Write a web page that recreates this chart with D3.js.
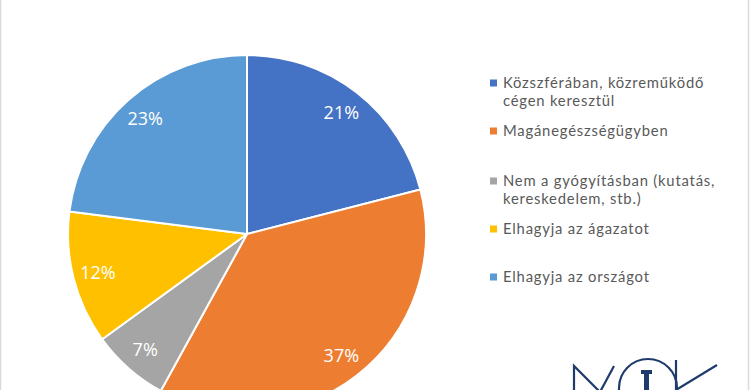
<!DOCTYPE html>
<html>
<head>
<meta charset="utf-8">
<script src="https://cdn.jsdelivr.net/npm/d3@7"></script>
<style>
  body { margin: 0; background: #fff; }
  svg { display: block; font-family: "Open Sans", Lato, sans-serif; }
</style>
</head>
<body>
<div id="chart"></div>
<script>
// data
var categories = ["Közszférában, közreműködő cégen keresztül", "Magánegészségügyben",
    "Nem a gyógyításban (kutatás, kereskedelem, stb.)", "Elhagyja az ágazatot", "Elhagyja az országot"];
var legendLines = [["Közszférában, közreműködő", "cégen keresztül"], ["Magánegészségügyben"],
    ["Nem a gyógyításban (kutatás,", "kereskedelem, stb.)"], ["Elhagyja az ágazatot"], ["Elhagyja az országot"]];
var values = [21, 37, 7, 12, 23];
var colors = ["#4472c4", "#ed7d31", "#a5a5a5", "#ffc000", "#5b9bd5"];

var width = 750, height = 390;
var cx = 247, cy = 234, radius = 179;

var svg = d3.select("#chart").append("svg")
    .attr("width", width)
    .attr("height", height);

// frame
svg.append("rect")
    .attr("x", 0.5).attr("y", -2)
    .attr("width", width - 2).attr("height", height + 4)
    .attr("fill", "none")
    .attr("stroke", "#d9d9d9")
    .attr("stroke-width", 1.5);

var pie = d3.pie().sort(null).value(function (d) { return d; });
var arc = d3.arc().innerRadius(0).outerRadius(radius);
var labelArc = d3.arc().innerRadius(radius * 0.86).outerRadius(radius * 0.86);

var g = svg.append("g").attr("transform", "translate(" + cx + "," + cy + ")");
var arcs = pie(values);

g.selectAll("path.slice")
    .data(arcs)
    .enter().append("path")
    .attr("class", "slice")
    .attr("d", arc)
    .attr("fill", function (d, i) { return colors[i]; })
    .attr("stroke", "#fff")
    .attr("stroke-width", 2)
    .attr("stroke-linejoin", "round");

g.selectAll("text.lbl")
    .data(arcs)
    .enter().append("text")
    .attr("class", "lbl")
    .attr("transform", function (d) { return "translate(" + labelArc.centroid(d) + ")"; })
    .attr("text-anchor", "middle")
    .attr("dy", "0.36em")
    .attr("fill", "#fff")
    .attr("font-size", 18)
    .text(function (d) { return d.value + "%"; });

// legend
var legendY = [83, 131, 181, 229, 277];
var legend = svg.append("g");
legendLines.forEach(function (lines, i) {
    var item = legend.append("g").attr("transform", "translate(490," + legendY[i] + ")");
    item.append("rect")
        .attr("x", 0).attr("y", -3.5)
        .attr("width", 7).attr("height", 7)
        .attr("fill", colors[i]);
    lines.forEach(function (t, j) {
        item.append("text")
            .attr("x", 13)
            .attr("y", j * 18)
            .attr("dy", "0.35em")
            .attr("fill", "#595959")
            .attr("font-family", "Lato, sans-serif")
            .attr("font-size", 14.8)
            .attr("letter-spacing", 0.8)
            .text(t);
    });
});

// logo (partially visible)
var logo = svg.append("g")
    .attr("fill", "none")
    .attr("stroke", "#1f3b6b")
    .attr("stroke-width", 2.2);
logo.append("path").attr("d", "M574,392 L574,366 L600,392 L614,366");
logo.append("circle").attr("cx", 648).attr("cy", 388).attr("r", 29);
logo.append("path").attr("d", "M676,360 L676,392 M676,390 L717,365");
svg.append("path")
    .attr("fill", "#1f3b6b")
    .attr("d", "M641,370 L652,370 L652,374 L649,374 L649,392 L644,392 L644,374 L641,374 Z");
</script>
</body>
</html>
